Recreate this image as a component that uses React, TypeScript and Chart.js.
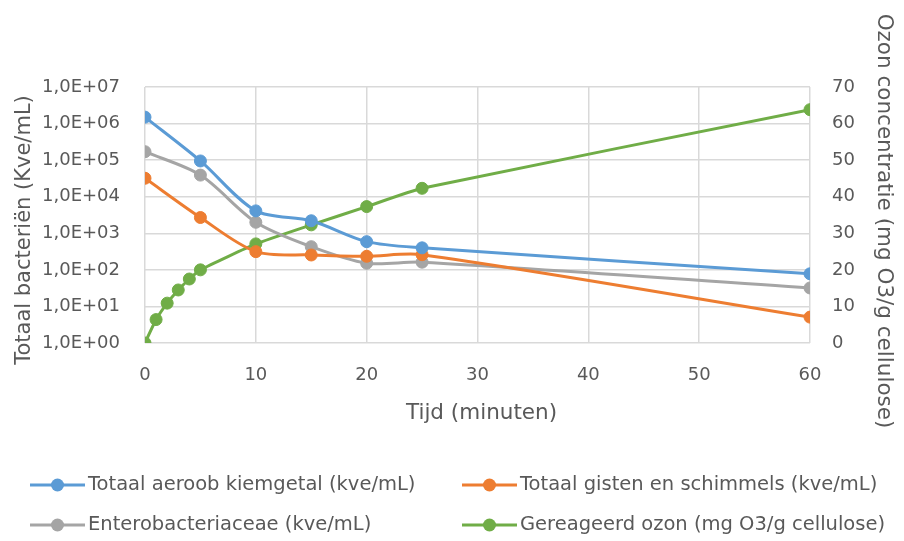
import React, { useEffect, useRef } from "react";
import { Chart, registerables } from "chart.js";

Chart.register(...registerables);

const timeBact = [0, 5, 10, 15, 20, 25, 60];
const aeroob = [1.5e6, 9.5e4, 4.1e3, 2.2e3, 590, 400, 78];
const gisten = [3.2e4, 2.7e3, 315, 255, 235, 260, 5.1];
const entero = [1.7e5, 3.9e4, 2.0e3, 430, 152, 162, 32];
const timeOzon = [0, 1, 2, 3, 4, 5, 10, 15, 20, 25, 60];
const ozon = [0, 6.4, 10.9, 14.5, 17.5, 20, 27.1, 32.3, 37.3, 42.3, 63.8];

const seriesNames = [
  "Totaal aeroob kiemgetal (kve/mL)",
  "Totaal gisten en schimmels (kve/mL)",
  "Enterobacteriaceae (kve/mL)",
  "Gereageerd ozon (mg O3/g cellulose)",
];
const xTitle = "Tijd (minuten)";
const yTitle = "Totaal bacteriën (Kve/mL)";
const y1Title = "Ozon concentratie (mg O3/g cellulose)";
const colors = ["#5B9BD5", "#ED7D31", "#A5A5A5", "#70AD47"];
const logTicks = [1, 10, 100, 1e3, 1e4, 1e5, 1e6, 1e7];

const FONT = "'DejaVu Sans', sans-serif";
const TEXT = "#595959";
const GRID = "#D9D9D9";

const legendPlugin = {
  id: "customLegend",
  afterDraw(chart: any) {
    const ctx = chart.ctx;
    const pos = [
      { x: 30, y: 485 },
      { x: 462, y: 485 },
      { x: 30, y: 525 },
      { x: 462, y: 525 },
    ];
    ctx.save();
    chart.data.datasets.forEach((ds: any, i: number) => {
      const p = pos[i];
      ctx.strokeStyle = ds.borderColor;
      ctx.lineWidth = 3;
      ctx.beginPath();
      ctx.moveTo(p.x, p.y);
      ctx.lineTo(p.x + 55, p.y);
      ctx.stroke();
      ctx.fillStyle = ds.borderColor;
      ctx.beginPath();
      ctx.arc(p.x + 27.5, p.y, 6.5, 0, Math.PI * 2);
      ctx.fill();
      ctx.fillStyle = TEXT;
      ctx.font = `19.5px ${FONT}`;
      ctx.textBaseline = "middle";
      ctx.textAlign = "left";
      ctx.fillText(ds.label, p.x + 58, p.y);
    });

    // axis titles
    const area = chart.chartArea;
    ctx.fillStyle = TEXT;
    ctx.textAlign = "center";
    ctx.textBaseline = "alphabetic";
    ctx.font = `21.5px ${FONT}`;
    ctx.fillText(xTitle, (area.left + area.right) / 2 + 4, 419);

    ctx.save();
    ctx.translate(30, 230);
    ctx.rotate(-Math.PI / 2);
    ctx.font = `21px ${FONT}`;
    ctx.fillText(yTitle, 0, 0);
    ctx.restore();

    ctx.save();
    ctx.translate(878, 221);
    ctx.rotate(Math.PI / 2);
    ctx.font = `21.5px ${FONT}`;
    ctx.fillText(y1Title, 0, 0);
    ctx.restore();

    ctx.restore();
  },
};

function fmtExp(v: number) {
  const e = Math.round(Math.log10(v));
  return "1,0E+" + (e < 10 ? "0" + e : String(e));
}

export default function App() {
  const ref = useRef<HTMLCanvasElement>(null);
  useEffect(() => {
    if (!ref.current) return;
    const mk = (xs: number[], ys: number[]) => xs.map((x, i) => ({ x, y: ys[i] }));
    const dsBase = (i: number) => ({
      label: seriesNames[i],
      borderColor: colors[i],
      backgroundColor: colors[i],
      pointBackgroundColor: colors[i],
      pointBorderColor: colors[i],
      borderWidth: 3,
      pointRadius: 6,
      pointBorderWidth: 1,
      tension: 0.3,
    });
    const chart = new Chart(ref.current, {
      type: "line",
      data: {
        datasets: [
          { ...dsBase(0), data: mk(timeBact, aeroob), yAxisID: "y" },
          { ...dsBase(1), data: mk(timeBact, gisten), yAxisID: "y" },
          { ...dsBase(2), data: mk(timeBact, entero), yAxisID: "y" },
          { ...dsBase(3), data: mk(timeOzon, ozon), yAxisID: "y1", tension: 0.15 },
        ],
      },
      options: {
        responsive: false,
        animation: false,
        layout: { padding: { top: 87, left: 0, right: 0, bottom: 116 } },
        plugins: { legend: { display: false }, tooltip: { enabled: false } },
        scales: {
          x: {
            type: "linear",
            min: 0,
            max: 60,
            ticks: { stepSize: 10, color: TEXT, font: { family: FONT, size: 18 }, padding: 22 },
            grid: { color: GRID, lineWidth: 1.5, drawTicks: false },
            border: { display: false },
            title: { display: false },
            afterFit: (s: any) => {
              s.height = 82;
            },
          },
          y: {
            type: "logarithmic",
            position: "left",
            min: 1,
            max: 1e7,
            afterBuildTicks: (s: any) => {
              s.ticks = logTicks.map((v) => ({ value: v, major: false }));
            },
            ticks: {
              color: TEXT,
              font: { family: FONT, size: 18 },
              padding: 25,
              autoSkip: false,
              callback: (v: any) => fmtExp(Number(v)),
            },
            grid: { color: GRID, lineWidth: 1.5, drawTicks: false },
            border: { display: false },
            title: { display: false },
            afterFit: (s: any) => {
              s.width = 145;
            },
          },
          y1: {
            type: "linear",
            position: "right",
            min: 0,
            max: 70,
            ticks: { stepSize: 10, color: TEXT, font: { family: FONT, size: 18 }, padding: 22 },
            grid: { display: false, drawTicks: false },
            border: { display: false },
            title: { display: false },
            afterFit: (s: any) => {
              s.width = 94;
            },
          },
        },
      } as any,
      plugins: [legendPlugin],
    });
    return () => chart.destroy();
  }, []);
  return (
    <div style={{ position: "absolute", left: 0, top: 0, width: 904, height: 541, background: "#fff" }}>
      <canvas ref={ref} width={904} height={541} />
    </div>
  );
}
